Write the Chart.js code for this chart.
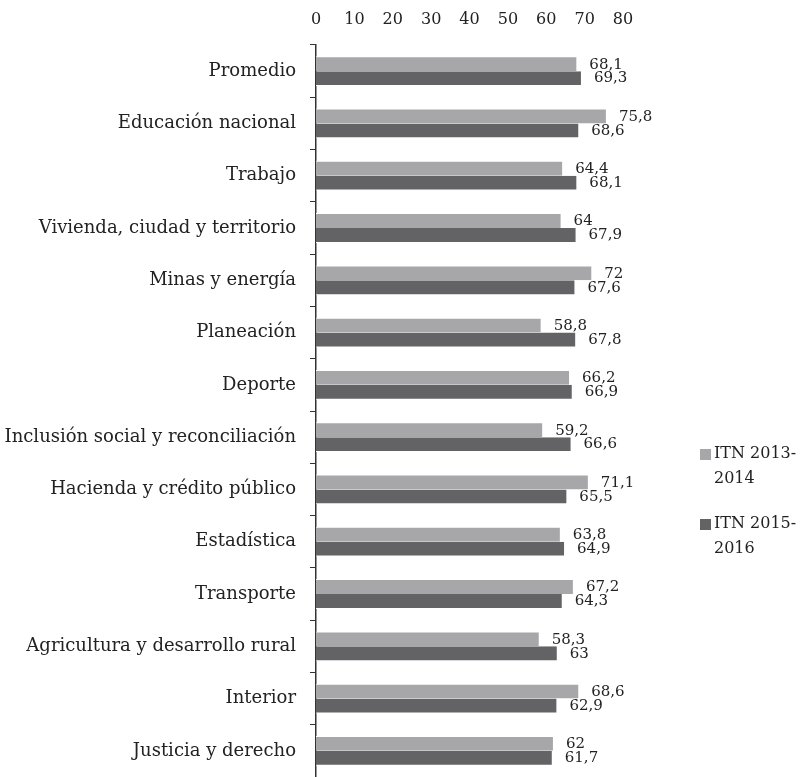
<!DOCTYPE html>
<html>
<head>
<meta charset="utf-8">
<script src="https://cdn.jsdelivr.net/npm/chart.js@4"></script>
<style>
  body { margin: 0; background: #fff; }
  #wrap { width: 808px; height: 777px; }
</style>
</head>
<body>
<div id="wrap"><canvas id="itnChart" width="808" height="777"></canvas></div>
<script>
// categories + values
const categories = [
  "Promedio",
  "Educación nacional",
  "Trabajo",
  "Vivienda, ciudad y territorio",
  "Minas y energía",
  "Planeación",
  "Deporte",
  "Inclusión social y reconciliación",
  "Hacienda y crédito público",
  "Estadística",
  "Transporte",
  "Agricultura y desarrollo rural",
  "Interior",
  "Justicia y derecho",
];
const itn2013 = [68.1, 75.8, 64.4, 64, 72, 58.8, 66.2, 59.2, 71.1, 63.8, 67.2, 58.3, 68.6, 62];
const itn2015 = [69.3, 68.6, 68.1, 67.9, 67.6, 67.8, 66.9, 66.6, 65.5, 64.9, 64.3, 63, 62.9, 61.7];
const seriesNames = [["ITN 2013-", "2014"], ["ITN 2015-", "2016"]];
const xTicks = [0, 10, 20, 30, 40, 50, 60, 70, 80];

const FONT = "'DejaVu Serif', serif";
const lightGray = "#a7a7a9";
const darkGray = "#636365";

// value labels at the end of every bar (decimal comma)
const barLabels = {
  id: "barLabels",
  afterDatasetsDraw(chart) {
    const ctx = chart.ctx;
    ctx.save();
    ctx.font = "15px " + FONT;
    ctx.fillStyle = "#222";
    ctx.textAlign = "left";
    ctx.textBaseline = "middle";
    chart.data.datasets.forEach((ds, i) => {
      chart.getDatasetMeta(i).data.forEach((bar, j) => {
        const txt = String(ds.data[j]).replace(".", ",");
        ctx.fillText(txt, bar.x + 12, bar.y + (i === 0 ? 1 : 0));
      });
    });
    ctx.restore();
  },
};

// legend drawn on the right, two lines per entry
const sideLegend = {
  id: "sideLegend",
  afterDraw(chart) {
    const ctx = chart.ctx;
    ctx.save();
    ctx.font = "16px " + FONT;
    ctx.textBaseline = "middle";
    const tops = [454, 524];
    chart.data.datasets.forEach((ds, i) => {
      const y = tops[i];
      ctx.fillStyle = ds.backgroundColor;
      ctx.fillRect(700, y - 5, 11, 11);
      ctx.fillStyle = "#222";
      seriesNames[i].forEach((line, k) => {
        ctx.fillText(line, 714, y + k * 25);
      });
    });
    ctx.restore();
  },
};

const ctx = document.getElementById("itnChart").getContext("2d");

let itnChart = new Chart(ctx, {
  type: "bar",
  data: {
    labels: categories,
    datasets: [
      {
        label: "ITN 2013-2014",
        data: itn2013,
        backgroundColor: lightGray,
        borderColor: "#ffffff",
        borderWidth: { top: 1, bottom: 0, right: 1, left: 0 },
        categoryPercentage: 0.57,
        barPercentage: 1,
      },
      {
        label: "ITN 2015-2016",
        data: itn2015,
        backgroundColor: darkGray,
        borderColor: "#ffffff",
        borderWidth: { top: 0, bottom: 1, right: 1, left: 0 },
        categoryPercentage: 0.57,
        barPercentage: 1,
      },
    ],
  },
  options: {
    indexAxis: "y",
    responsive: false,
    animation: false,
    layout: {
      padding: { right: 185, bottom: 0, top: 0, left: 0 },
    },
    scales: {
      x: {
        position: "top",
        min: 0,
        max: 80,
        afterBuildTicks: (scale) => {
          scale.ticks = xTicks.map((v) => ({ value: v }));
        },
        afterFit: (scale) => {
          scale.height = 45;
        },
        grid: { display: false },
        border: { display: false },
        ticks: {
          color: "#222",
          padding: 8,
          font: { family: FONT, size: 16 },
        },
      },
      y: {
        afterFit: (scale) => {
          scale.width = 316;
          scale.paddingTop = 0;
          scale.paddingBottom = 0;
        },
        grid: {
          drawOnChartArea: false,
          drawTicks: true,
          tickLength: 6,
          tickColor: "#333",
          offset: true,
        },
        border: { display: true, color: "#333", width: 1.5 },
        ticks: {
          color: "#222",
          padding: 14,
          font: { family: FONT, size: 18 },
        },
      },
    },
    plugins: {
      legend: { display: false },
      tooltip: { enabled: false },
    },
  },
  plugins: [barLabels, sideLegend],
});
</script>
</body>
</html>
